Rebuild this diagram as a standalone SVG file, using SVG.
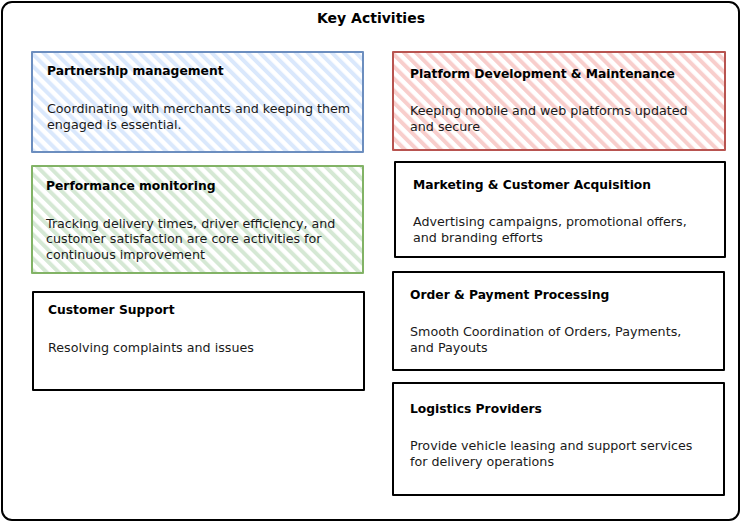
<svg xmlns="http://www.w3.org/2000/svg" width="742" height="522" viewBox="0 0 742 522">
<style>
.box{stroke-width:2;stroke-linejoin:round}
.plain{fill:#ffffff;stroke:#000000}
.blue{fill:url(#hBlue);stroke:#6c8ebf}
.red{fill:url(#hRed);stroke:#b85450}
.green{fill:url(#hGreen);stroke:#82b366}
.t{font-family:"DejaVu Sans","Liberation Sans",sans-serif;font-size:12.3px;font-weight:bold;fill:#000}
.b{font-family:"DejaVu Sans","Liberation Sans",sans-serif;font-size:12.7px;fill:#1a1a1a}
.title{font-family:"DejaVu Sans","Liberation Sans",sans-serif;font-size:14px;font-weight:bold;fill:#000}
</style>
<defs>
<pattern id="hBlue" width="8.5" height="8.5" patternUnits="userSpaceOnUse" patternTransform="rotate(-45)"><rect width="8.5" height="8.5" fill="#ffffff"/><rect width="4" height="8.5" fill="#dae8fc"/></pattern>
<pattern id="hRed" width="8.5" height="8.5" patternUnits="userSpaceOnUse" patternTransform="rotate(-45)"><rect width="8.5" height="8.5" fill="#ffffff"/><rect width="4" height="8.5" fill="#f8cecc"/></pattern>
<pattern id="hGreen" width="8.5" height="8.5" patternUnits="userSpaceOnUse" patternTransform="rotate(-45)"><rect width="8.5" height="8.5" fill="#ffffff"/><rect width="4" height="8.5" fill="#d5e8d4"/></pattern>
</defs>
<rect width="742" height="522" fill="#ffffff"/>
<g id="container">
<rect x="2" y="2" width="737" height="518" rx="10" ry="10" fill="#ffffff" stroke="#000" stroke-width="2"/>
<text class="title" x="371" y="23" text-anchor="middle">Key Activities</text>
</g>
<g id="connectors"/>
<g id="partnership">
<rect class="box blue" x="32" y="52" width="331" height="100"/>
<text class="t" x="47" y="75">Partnership management</text>
<text class="b" x="47" y="113">Coordinating with merchants and keeping them</text>
<text class="b" x="47" y="129">engaged is essential.</text>
</g>
<g id="platform">
<rect class="box red" x="393" y="52" width="332" height="98"/>
<text class="t" x="410" y="78">Platform Development &amp; Maintenance</text>
<text class="b" x="410" y="115">Keeping mobile and web platforms updated</text>
<text class="b" x="410" y="131">and secure</text>
</g>
<g id="performance">
<rect class="box green" x="32" y="166" width="331" height="107"/>
<text class="t" x="46" y="190">Performance monitoring</text>
<text class="b" x="46" y="228">Tracking delivery times, driver efficiency, and</text>
<text class="b" x="46" y="243">customer satisfaction are core activities for</text>
<text class="b" x="46" y="259">continuous improvement</text>
</g>
<g id="support">
<rect class="box plain" x="33" y="292" width="331" height="98"/>
<text class="t" x="48" y="314">Customer Support</text>
<text class="b" x="48" y="352">Resolving complaints and issues</text>
</g>
<g id="marketing">
<rect class="box plain" x="395" y="162" width="330" height="95"/>
<text class="t" x="413" y="189">Marketing &amp; Customer Acquisition</text>
<text class="b" x="413" y="226">Advertising campaigns, promotional offers,</text>
<text class="b" x="413" y="242">and branding efforts</text>
</g>
<g id="order">
<rect class="box plain" x="393" y="272" width="331" height="98"/>
<text class="t" x="410" y="299">Order &amp; Payment Processing</text>
<text class="b" x="410" y="336">Smooth Coordination of Orders, Payments,</text>
<text class="b" x="410" y="352">and Payouts</text>
</g>
<g id="logistics">
<rect class="box plain" x="393" y="383" width="331" height="112"/>
<text class="t" x="410" y="413">Logistics Providers</text>
<text class="b" x="410" y="450">Provide vehicle leasing and support services</text>
<text class="b" x="410" y="466">for delivery operations</text>
</g>
</svg>
